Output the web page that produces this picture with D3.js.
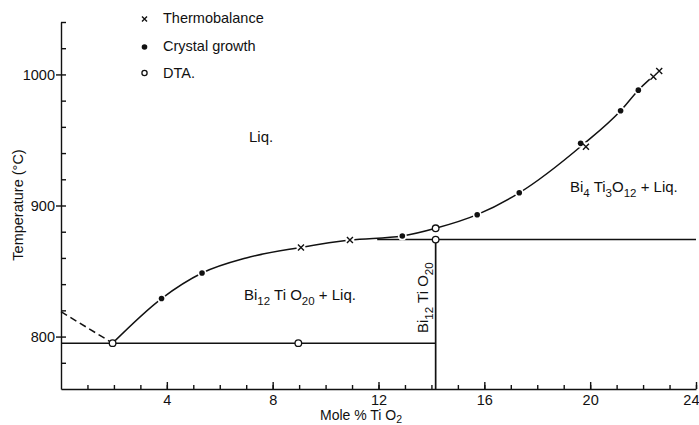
<!DOCTYPE html>
<html>
<head>
<meta charset="utf-8">
<script src="https://cdn.jsdelivr.net/npm/d3@7"></script>
<style>
  body { margin: 0; background: #fff; }
  text { font-family: "Liberation Sans", Arial, sans-serif; fill: #111; }
  .axis path, .axis line { stroke: #111; stroke-width: 1.4; }
  .axis text { font-size: 14.5px; font-family: "Liberation Sans", Arial, sans-serif; fill: #111; }
</style>
</head>
<body>
<div class="chart"></div>
<script>
// DATA ------------------------------------
const xTicks = [4, 8, 12, 16, 20, 24];
const yTicks = [800, 900, 1000];

// liquidus curve
const liquidusX = [1.95, 3.8, 5.33, 7.0, 9.07, 10.92, 12.9, 14.16, 15.73, 17.32, 19.7, 21.15, 21.82, 22.7];
const liquidusT = [795, 829, 848.5, 860, 868, 873.6, 876.7, 882.6, 893, 909.7, 946, 972.3, 988, 1004];

// dashed branch at the Bi2O3 side
const dashedX = [0, 1.95];
const dashedT = [819, 795];

// invariant lines
const eutecticT = 795, eutecticX = [0, 14.16];
const peritecticT = 874, peritecticX = [11.95, 24];
const compoundX = 14.16;

// measurements
const thermoX = [9.07, 10.92, 19.84, 22.39, 22.61];
const thermoT = [868, 873.6, 944.8, 998.2, 1002.6];
const growthX = [3.8, 5.33, 12.9, 15.73, 17.32, 19.64, 21.15, 21.82];
const growthT = [829, 848.5, 876.7, 893, 909.7, 947.4, 972.3, 988];
const dtaX = [1.95, 8.97, 14.16, 14.16];
const dtaT = [795, 795, 882.6, 874];

// CHART INIT ------------------------------
const margin = ({top: 22, right: 3, bottom: 36, left: 61}),
    width = 699 - margin.left - margin.right,
    height = 425 - margin.top - margin.bottom;

const svg = d3.select(".chart").append("svg")
    .attr("width", width + margin.left + margin.right)
    .attr("height", height + margin.top + margin.bottom)
  .append("g")
    .attr("transform", "translate(" + margin.left + "," + margin.top + ")");

const xScale = d3.scaleLinear().domain([0, 24]).range([0, width]);
const yScale = d3.scaleLinear().domain([760, 1040]).range([height, 0]);

// axes
svg.append("g").attr("class", "axis")
    .attr("transform", "translate(0," + height + ")")
    .call(d3.axisBottom(xScale).tickValues(d3.range(1, 25)).tickSize(-4).tickSizeOuter(0).tickFormat(""));
svg.append("g").attr("class", "axis")
    .attr("transform", "translate(0," + height + ")")
    .call(d3.axisBottom(xScale).tickValues(xTicks).tickSize(-7).tickSizeOuter(0).tickPadding(6))
    .call(g => g.select(".domain").remove())
    .call(g => g.selectAll(".tick text").filter(d => d === 24)
        .attr("text-anchor", "end").attr("x", 3));

svg.append("g").attr("class", "axis")
    .call(d3.axisRight(yScale).tickValues(d3.range(780, 1041, 20)).tickSize(5).tickSizeOuter(0).tickFormat(""))
    .call(g => g.select(".domain").remove());
svg.append("g").attr("class", "axis")
    .call(d3.axisLeft(yScale).tickValues(yTicks).tickSize(5).tickSizeOuter(0).tickPadding(1)
        .tickFormat(d3.format("d")));

// lines
const line = d3.line().x(d => xScale(d[0])).y(d => yScale(d[1]));

svg.append("path")
    .datum(d3.zip(liquidusX, liquidusT))
    .attr("fill", "none").attr("stroke", "#111").attr("stroke-width", 1.5)
    .attr("d", line.curve(d3.curveMonotoneX));

svg.append("path")
    .datum(d3.zip(dashedX, dashedT))
    .attr("fill", "none").attr("stroke", "#111").attr("stroke-width", 1.5)
    .attr("stroke-dasharray", "7,4")
    .attr("d", d3.line().x(d => xScale(d[0])).y(d => yScale(d[1])));

svg.append("line")
    .attr("x1", xScale(eutecticX[0])).attr("x2", xScale(eutecticX[1]))
    .attr("y1", yScale(eutecticT)).attr("y2", yScale(eutecticT))
    .attr("stroke", "#111").attr("stroke-width", 1.5);
svg.append("line")
    .attr("x1", xScale(peritecticX[0])).attr("x2", xScale(peritecticX[1]))
    .attr("y1", yScale(peritecticT)).attr("y2", yScale(peritecticT))
    .attr("stroke", "#111").attr("stroke-width", 1.5);
svg.append("line")
    .attr("x1", xScale(compoundX)).attr("x2", xScale(compoundX))
    .attr("y1", yScale(peritecticT)).attr("y2", yScale(760))
    .attr("stroke", "#111").attr("stroke-width", 1.7);

// little gaps in the curve around the markers
svg.selectAll(".halo")
    .data(d3.zip(thermoX.concat(growthX), thermoT.concat(growthT)))
    .enter().append("circle")
    .attr("class", "halo")
    .attr("cx", d => xScale(d[0])).attr("cy", d => yScale(d[1]))
    .attr("r", 4.5).attr("fill", "#fff");

// markers
function cross(g, cx, cy, s) {
    g.append("path")
        .attr("d", `M${cx - s},${cy - s}L${cx + s},${cy + s}M${cx - s},${cy + s}L${cx + s},${cy - s}`)
        .attr("stroke", "#111").attr("stroke-width", 1.4).attr("fill", "none");
}
d3.zip(thermoX, thermoT).forEach(d => cross(svg, xScale(d[0]), yScale(d[1]), 3));

svg.selectAll(".growth")
    .data(d3.zip(growthX, growthT))
    .enter().append("circle")
    .attr("class", "growth")
    .attr("cx", d => xScale(d[0])).attr("cy", d => yScale(d[1]))
    .attr("r", 2.8).attr("fill", "#111");

svg.selectAll(".dta")
    .data(d3.zip(dtaX, dtaT))
    .enter().append("circle")
    .attr("class", "dta")
    .attr("cx", d => xScale(d[0])).attr("cy", d => yScale(d[1]))
    .attr("r", 3.3).attr("fill", "#fff").attr("stroke", "#111").attr("stroke-width", 1.3);

// TEXT ------------------------------------
// parts: [text, isSubscript]
function label(g, x, y, parts, size, rotate, shift) {
    shift = shift || 4.5;
    const t = g.append("text")
        .attr("x", x).attr("y", y)
        .attr("font-size", size + "px");
    if (rotate) t.attr("transform", `rotate(-90,${x},${y})`);
    let down = false;
    parts.forEach(p => {
        const sub = p[1];
        let dy = 0;
        if (sub && !down) { dy = shift; down = true; }
        else if (!sub && down) { dy = -shift; down = false; }
        t.append("tspan").attr("dy", dy)
            .attr("font-size", sub ? (size - 3.5) + "px" : null)
            .text(p[0]);
    });
    return t;
}

const abs = ({x: v => v - margin.left, y: v => v - margin.top});

label(svg, abs.x(249), abs.y(142), [["Liq.", 0]], 15);
label(svg, abs.x(244), abs.y(300), [["Bi", 0], ["12", 1], [" Ti O", 0], ["20", 1], [" + Liq.", 0]], 15);
label(svg, abs.x(570), abs.y(192), [["Bi", 0], ["4", 1], [" Ti", 0], ["3", 1], ["O", 0], ["12", 1], [" + Liq.", 0]], 15);
label(svg, abs.x(428), abs.y(333), [["Bi", 0], ["12", 1], [" Ti O", 0], ["20", 1]], 15, true);

svg.append("text")
    .attr("transform", `translate(${abs.x(23)},${abs.y(205)}) rotate(-90)`)
    .attr("text-anchor", "middle").attr("font-size", "14.5px")
    .text("Temperature (°C)");

label(svg, abs.x(320), abs.y(420), [["Mole % Ti O", 0], ["2", 1]], 14, false, 3);

// legend
cross(svg, abs.x(144.5), abs.y(19), 2.5);
svg.append("circle").attr("cx", abs.x(144.5)).attr("cy", abs.y(47)).attr("r", 2.8).attr("fill", "#111");
svg.append("circle").attr("cx", abs.x(144.5)).attr("cy", abs.y(73)).attr("r", 2.6)
    .attr("fill", "#fff").attr("stroke", "#111").attr("stroke-width", 1.3);
label(svg, abs.x(163), abs.y(23), [["Thermobalance", 0]], 14.5);
label(svg, abs.x(163), abs.y(51), [["Crystal growth", 0]], 14.5);
label(svg, abs.x(163), abs.y(78), [["DTA.", 0]], 14.5);
</script>
</body>
</html>
